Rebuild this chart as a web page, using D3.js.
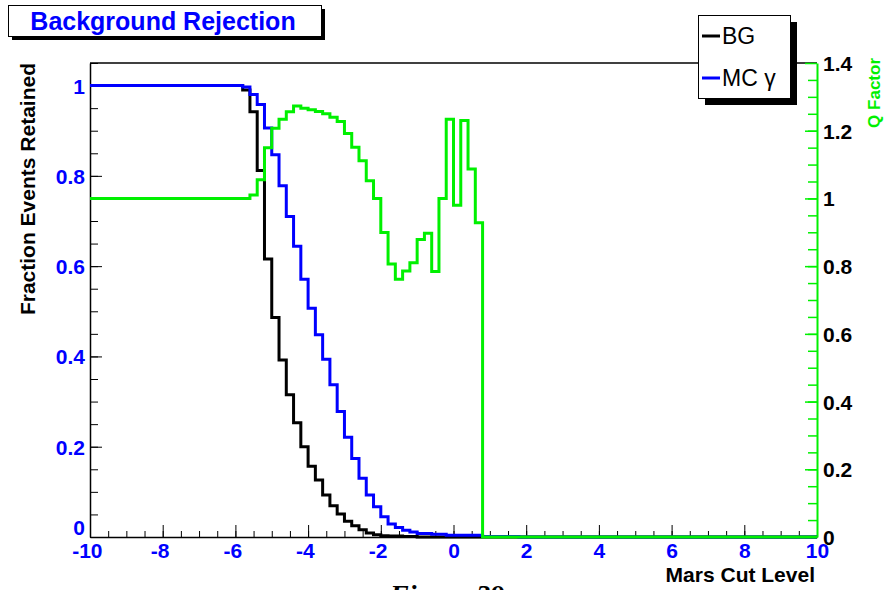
<html>
<head>
<meta charset="utf-8">
<script src="https://d3js.org/d3.v7.min.js"></script>
<style>
  body { margin: 0; background: #fff; }
  text { font-family: "Liberation Sans", Arial, Helvetica, sans-serif; }
</style>
</head>
<body>
<svg id="chart" width="888" height="590"></svg>
<script>
// BG (black) step histogram: segment edges and fraction retained
var bgEdges = [-10, -5.8, -5.6, -5.4, -5.2, -5.0, -4.8, -4.6, -4.4, -4.2, -4.0, -3.8, -3.6, -3.4, -3.2, -3.0,
               -2.8, -2.6, -2.4, -2.2, -2.0, -1.8, -1.4, -1.0, 10];
var bgValues = [1.0, 0.99, 0.942, 0.812, 0.616, 0.486, 0.392, 0.315, 0.253, 0.200, 0.157, 0.126, 0.093, 0.069, 0.051,
                0.035, 0.025, 0.016, 0.009, 0.005, 0.003, 0.002, 0.001, 0];

// MC gamma (blue)
var mcEdges = [-10, -5.8, -5.6, -5.4, -5.2, -5.0, -4.8, -4.6, -4.4, -4.2, -4.0, -3.8, -3.6, -3.4, -3.2, -3.0,
               -2.8, -2.6, -2.4, -2.2, -2.0, -1.8, -1.6, -1.4, -1.2, -1.0, -0.6, -0.2, 0.8, 1.8, 10];
var mcValues = [1.0, 0.997, 0.98, 0.958, 0.906, 0.847, 0.778, 0.71, 0.644, 0.571, 0.507, 0.448, 0.394, 0.337, 0.278,
                0.221, 0.174, 0.130, 0.093, 0.067, 0.045, 0.029, 0.021, 0.015, 0.011, 0.008, 0.006, 0.004, 0.001, 0];

// Q factor (green, right axis)
var qEdges = [-10, -5.6, -5.4, -5.2, -5.0, -4.8, -4.6, -4.4, -4.2, -4.0, -3.8, -3.6, -3.4, -3.2, -3.0,
              -2.8, -2.6, -2.4, -2.2, -2.0, -1.8, -1.6, -1.4, -1.2, -1.0, -0.8, -0.6, -0.4, -0.2, 0.0,
              0.2, 0.4, 0.6, 0.8, 10];
var qValues = [1.0, 1.01, 1.055, 1.15, 1.207, 1.234, 1.256, 1.273, 1.266, 1.262, 1.257, 1.25, 1.24, 1.227,
               1.192, 1.151, 1.111, 1.052, 1.0, 0.899, 0.806, 0.761, 0.786, 0.810, 0.879, 0.897, 0.784, 1.0,
               1.234, 0.98, 1.23, 1.087, 0.928, 0];

var xTicks = [-10, -8, -6, -4, -2, 0, 2, 4, 6, 8, 10];
var yLeftTicks = [0, 0.2, 0.4, 0.6, 0.8, 1];
var yRightTicks = [0, 0.2, 0.4, 0.6, 0.8, 1, 1.2, 1.4];

var svg = d3.select("#chart");
var plotL = 90, plotR = 817, plotT = 63, plotB = 537;

var x = d3.scaleLinear().domain([-10, 10]).range([plotL, plotR]);
var yL = d3.scaleLinear().domain([0, 1.05]).range([plotB, plotT]);
var yR = d3.scaleLinear().domain([0, 1.4]).range([plotB, plotT]);

var blue = "#0000ff", green = "#00f000";

function steps(edges, vals) {
  var pts = vals.map(function(v, i) { return [edges[i], v]; });
  pts.push([edges[edges.length - 1], vals[vals.length - 1]]);
  return pts;
}
function fmt(d) { return String(+d.toFixed(1)); }

// frame top line
svg.append("line").attr("x1", plotL).attr("x2", plotR).attr("y1", plotT).attr("y2", plotT)
  .attr("stroke", "#000").attr("stroke-width", 1.5);

// minor ticks
svg.append("g").attr("transform", "translate(0," + plotB + ")")
  .call(d3.axisBottom(x).tickValues(d3.range(-9.5, 10, 0.5)).tickSize(-6).tickFormat(""))
  .call(function(g) { g.select(".domain").remove(); });
svg.append("g").attr("transform", "translate(" + plotL + ",0)")
  .call(d3.axisLeft(yL).tickValues(d3.range(0.05, 1.06, 0.05)).tickSize(-8).tickFormat(""))
  .call(function(g) { g.select(".domain").remove(); });
svg.append("g").attr("transform", "translate(" + plotR + ",0)")
  .call(d3.axisRight(yR).tickValues(d3.range(0.05, 1.4, 0.05)).tickSize(-9).tickFormat(""))
  .call(function(g) { g.select(".domain").remove(); g.selectAll("line").attr("stroke", green).attr("stroke-width", 1.5); });

// major axes
var gx = svg.append("g").attr("transform", "translate(0," + plotB + ")")
  .call(d3.axisBottom(x).tickValues(xTicks).tickSizeInner(-12).tickSizeOuter(0).tickPadding(6)
    .tickFormat(function(d) { return String(d); }));
gx.select(".domain").attr("stroke-width", 1.5);
gx.selectAll("text").attr("fill", blue).style("font-size", "21px").style("font-weight", "bold")
  .attr("dx", function(d) { return d < 0 ? "-0.15em" : 0; });

var gl = svg.append("g").attr("transform", "translate(" + plotL + ",0)")
  .call(d3.axisLeft(yL).tickValues(yLeftTicks).tickSizeInner(-12).tickSizeOuter(0).tickPadding(5).tickFormat(fmt));
gl.select(".domain").attr("stroke-width", 1.5);
gl.selectAll("text").attr("fill", blue).style("font-size", "21px").style("font-weight", "bold")
  .attr("dy", function(d) { return d === 0 ? "-0.1em" : "0.36em"; });

var gr = svg.append("g").attr("transform", "translate(" + plotR + ",0)")
  .call(d3.axisRight(yR).tickValues(yRightTicks).tickSizeInner(-12).tickSizeOuter(0).tickPadding(6).tickFormat(fmt));
gr.select(".domain").attr("stroke", green).attr("stroke-width", 2);
gr.selectAll("line").attr("stroke", green).attr("stroke-width", 1.5);
gr.selectAll("text").attr("fill", "#000").style("font-size", "21px").style("font-weight", "bold").attr("dy", "0.36em");

// histograms
var lineL = d3.line().x(function(d) { return x(d[0]); }).y(function(d) { return yL(d[1]); }).curve(d3.curveStepAfter);
var lineR = d3.line().x(function(d) { return x(d[0]); }).y(function(d) { return yR(d[1]); }).curve(d3.curveStepAfter);

svg.append("path").attr("d", lineL(steps(bgEdges, bgValues)))
  .attr("fill", "none").attr("stroke", "#000").attr("stroke-width", 3);
svg.append("path").attr("d", lineL(steps(mcEdges, mcValues)))
  .attr("fill", "none").attr("stroke", blue).attr("stroke-width", 3);
svg.append("path").attr("d", lineR(steps(qEdges, qValues)))
  .attr("fill", "none").attr("stroke", green).attr("stroke-width", 3);

// axis titles
svg.append("text").attr("transform", "translate(35," + plotT + ") rotate(-90)")
  .attr("text-anchor", "end").style("font-size", "21px").style("font-weight", "bold")
  .text("Fraction Events Retained");
svg.append("text").attr("transform", "translate(880,58) rotate(-90)")
  .attr("text-anchor", "end").attr("fill", green).style("font-size", "17px").style("font-weight", "bold")
  .text("Q Factor");
svg.append("text").attr("x", 815).attr("y", 582).attr("text-anchor", "end")
  .style("font-size", "21px").style("font-weight", "bold").text("Mars Cut Level");

// title box
svg.append("rect").attr("x", 12).attr("y", 9).attr("width", 313).attr("height", 31).attr("fill", "#000");
svg.append("rect").attr("x", 8.5).attr("y", 5.5).attr("width", 313).attr("height", 31)
  .attr("fill", "#fff").attr("stroke", "#000").attr("stroke-width", 1);
svg.append("text").attr("x", 163).attr("y", 30).attr("text-anchor", "middle").attr("fill", blue)
  .style("font-size", "25px").style("font-weight", "bold").text("Background Rejection");

// legend
svg.append("rect").attr("x", 705).attr("y", 22).attr("width", 92).attr("height", 83).attr("fill", "#000");
svg.append("rect").attr("x", 698.5).attr("y", 15.5).attr("width", 92).attr("height", 83)
  .attr("fill", "#fff").attr("stroke", "#000").attr("stroke-width", 1);
var legendItems = [{name: "BG", color: "#000", y: 36}, {name: "MC \u03b3", color: blue, y: 78}];
legendItems.forEach(function(d) {
  svg.append("line").attr("x1", 702).attr("x2", 720).attr("y1", d.y).attr("y2", d.y)
    .attr("stroke", d.color).attr("stroke-width", 3);
  svg.append("text").attr("x", 722).attr("y", d.y + 8).style("font-size", "23px").text(d.name);
});

// caption (cut off at the bottom edge)
svg.append("text").attr("x", 390).attr("y", 604)
  .style("font-family", "'Liberation Serif', 'Times New Roman', serif").style("font-size", "28px")
  .style("font-weight", "bold").style("font-style", "italic").text("Figure 39");
</script>
</body>
</html>
